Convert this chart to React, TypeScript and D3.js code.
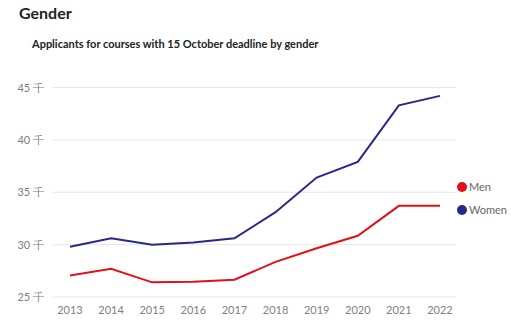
import React from "react";
import * as d3 from "d3";

const years = ["2013","2014","2015","2016","2017","2018","2019","2020","2021","2022"];
const women = [29.8, 30.6, 30.0, 30.2, 30.6, 33.1, 36.4, 37.9, 43.3, 44.2];
const men = [27.05, 27.7, 26.4, 26.45, 26.65, 28.35, 29.65, 30.85, 33.7, 33.7];
const yTicks = [25, 30, 35, 40, 45];
const seriesNames = ["Men", "Women"];
const seriesColors = ["#e3101a", "#27298a"];

export default function App() {
  const W = 516, H = 332;
  const x = d3.scalePoint<string>().domain(years).range([70, 440]);
  const y = d3.scaleLinear().domain([25, 45]).range([297, 87.5]);
  const line = d3.line<number>().x((_, i) => x(years[i])!).y(d => y(d));
  const font = "Lato, 'Open Sans', sans-serif";
  const series = [men, women];
  return (
    <svg width={W} height={H} style={{ position: "absolute", left: 0, top: 0, background: "#fff" }} fontFamily={font}>
      <rect width={W} height={H} fill="#fff" />
      <text x={19} y={19} fontSize={16} fontWeight={700} fill="#222">Gender</text>
      <text x={32} y={48} fontSize={11} fontWeight={700} fill="#222">Applicants for courses with 15 October deadline  by gender</text>
      {yTicks.map(t => (
        <g key={t}>
          <line x1={53} x2={456} y1={y(t)} y2={y(t)} stroke="#e6e6e6" strokeWidth={1} />
          <text x={44} y={y(t) + 4} fontSize={11} fill="#808080" textAnchor="end">{`${t} 千`}</text>
        </g>
      ))}
      {years.map(yr => (
        <text key={yr} x={x(yr)!} y={314} fontSize={11} fill="#808080" textAnchor="middle">{yr}</text>
      ))}
      {series.map((s, i) => (
        <path key={i} d={line(s)!} fill="none" stroke={seriesColors[i]} strokeWidth={2} />
      ))}
      {seriesNames.map((n, i) => (
        <g key={n}>
          <circle cx={462} cy={187 + i * 23} r={5} fill={seriesColors[i]} />
          <text x={469} y={191 + i * 23} fontSize={11} fill="#666">{n}</text>
        </g>
      ))}
    </svg>
  );
}
